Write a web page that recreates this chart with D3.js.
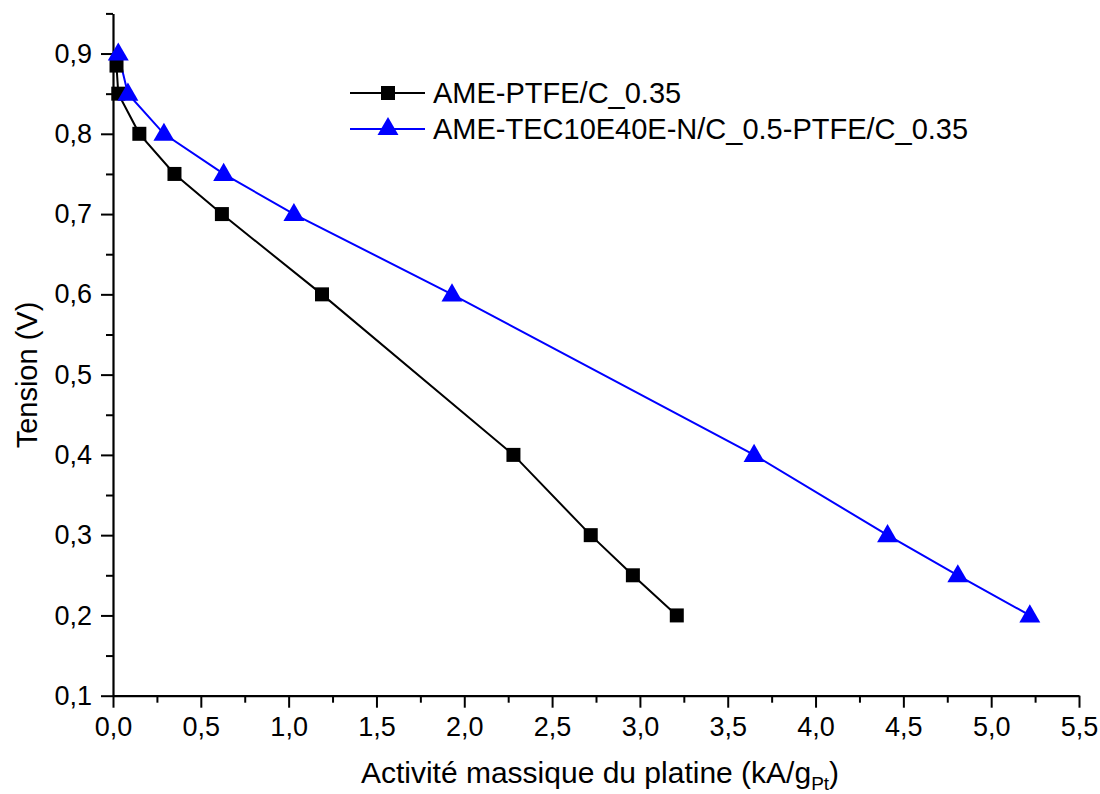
<!DOCTYPE html>
<html>
<head>
<meta charset="utf-8">
<script src="https://cdn.jsdelivr.net/npm/d3@7"></script>
<style>
  html, body { margin: 0; padding: 0; background: #fff; }
  svg { display: block; }
  text { font-family: "Liberation Sans", Arial, sans-serif; fill: #000; }
</style>
</head>
<body>
<svg id="chart" width="1100" height="794"></svg>
<script>
// Data
const seriesNames = ["AME-PTFE/C_0.35", "AME-TEC10E40E-N/C_0.5-PTFE/C_0.35"];
const ptfeX = [0.02, 0.03, 0.15, 0.35, 0.62, 1.19, 2.28, 2.72, 2.96, 3.21];
const ptfeY = [0.885, 0.85, 0.80, 0.75, 0.70, 0.60, 0.40, 0.30, 0.25, 0.20];
const tecX = [0.03, 0.085, 0.29, 0.63, 1.03, 1.93, 3.65, 4.41, 4.81, 5.22];
const tecY = [0.90, 0.85, 0.80, 0.75, 0.70, 0.60, 0.40, 0.30, 0.25, 0.20];
const xTicks = [0.0, 0.5, 1.0, 1.5, 2.0, 2.5, 3.0, 3.5, 4.0, 4.5, 5.0, 5.5];
const yTicks = [0.1, 0.2, 0.3, 0.4, 0.5, 0.6, 0.7, 0.8, 0.9];
const xMinor = [0.25, 0.75, 1.25, 1.75, 2.25, 2.75, 3.25, 3.75, 4.25, 4.75, 5.25];
const yMinor = [0.15, 0.25, 0.35, 0.45, 0.55, 0.65, 0.75, 0.85, 0.95];
const xTitle = "Activité massique du platine (kA/g";
const xTitleSub = "Pt";
const yTitle = "Tension (V)";

const svg = d3.select("#chart");
const mLeft = 113, mRight = 1079, mTop = 13.4, mBottom = 695.7;
const x = d3.scaleLinear().domain([0, 5.5]).range([mLeft, mRight]);
const y = d3.scaleLinear().domain([0.1, 0.95]).range([mBottom, mTop]);
const fmt = d => d3.format(".1f")(d).replace(".", ",");

// Axes
const xAxis = svg.append("g").attr("transform", `translate(0,${mBottom})`)
  .call(d3.axisBottom(x).tickValues(xTicks).tickFormat(fmt).tickSize(12).tickSizeOuter(0).tickPadding(9));
xAxis.append("g").call(d3.axisBottom(x).tickValues(xMinor).tickFormat("").tickSize(7).tickSizeOuter(0))
  .select(".domain").remove();
const yAxis = svg.append("g").attr("transform", `translate(${mLeft},0)`)
  .call(d3.axisLeft(y).tickValues(yTicks).tickFormat(fmt).tickSize(12).tickSizeOuter(0).tickPadding(9));
yAxis.append("g").call(d3.axisLeft(y).tickValues(yMinor).tickFormat("").tickSize(7).tickSizeOuter(0))
  .select(".domain").remove();
svg.selectAll(".domain").attr("stroke", "#000").attr("stroke-width", 2.2);
svg.selectAll(".tick line").attr("stroke", "#000").attr("stroke-width", 2);
svg.selectAll(".tick text").style("font-size", "27px").style("font-family", "'Liberation Sans', Arial, sans-serif").attr("fill", "#000");

// Titles
const xt = svg.append("text").attr("x", 600).attr("y", 783)
  .attr("text-anchor", "middle").style("font-size", "30px");
xt.append("tspan").text(xTitle);
xt.append("tspan").text(xTitleSub).attr("dy", 7).style("font-size", "19px");
xt.append("tspan").text(")").attr("dy", -7);

svg.append("text").attr("transform", "translate(37,375) rotate(-90)")
  .attr("text-anchor", "middle").style("font-size", "29px").text(yTitle);

// Series
const ptfe = ptfeX.map((v, i) => [v, ptfeY[i]]);
const tec = tecX.map((v, i) => [v, tecY[i]]);
const line = d3.line().x(d => x(d[0])).y(d => y(d[1]));
const sq = d3.symbol().type(d3.symbolSquare).size(196);
const tri = d3.symbol().type(d3.symbolTriangle).size(190);

svg.append("path").datum(ptfe).attr("d", line).attr("fill", "none").attr("stroke", "#000").attr("stroke-width", 2);
svg.append("path").datum(tec).attr("d", line).attr("fill", "none").attr("stroke", "#0000ff").attr("stroke-width", 2);
svg.selectAll(".sq").data(ptfe).enter().append("path")
  .attr("d", sq).attr("transform", d => `translate(${x(d[0])},${y(d[1])})`).attr("fill", "#000");
svg.selectAll(".tri").data(tec).enter().append("path")
  .attr("d", tri).attr("transform", d => `translate(${x(d[0])},${y(d[1]) + 1})`).attr("fill", "#0000ff");

// Legend
const legRows = [
  { name: seriesNames[0], color: "#000", sym: sq, y: 93 },
  { name: seriesNames[1], color: "#0000ff", sym: tri, y: 129 }
];
legRows.forEach(r => {
  const g = svg.append("g");
  g.append("line").attr("x1", 350).attr("x2", 425).attr("y1", r.y).attr("y2", r.y)
    .attr("stroke", r.color).attr("stroke-width", 2);
  g.append("path").attr("d", r.sym).attr("transform", `translate(388,${r.y})`).attr("fill", r.color);
  g.append("text").attr("x", 433).attr("y", r.y + 10).style("font-size", "29px").text(r.name);
});
</script>
</body>
</html>
